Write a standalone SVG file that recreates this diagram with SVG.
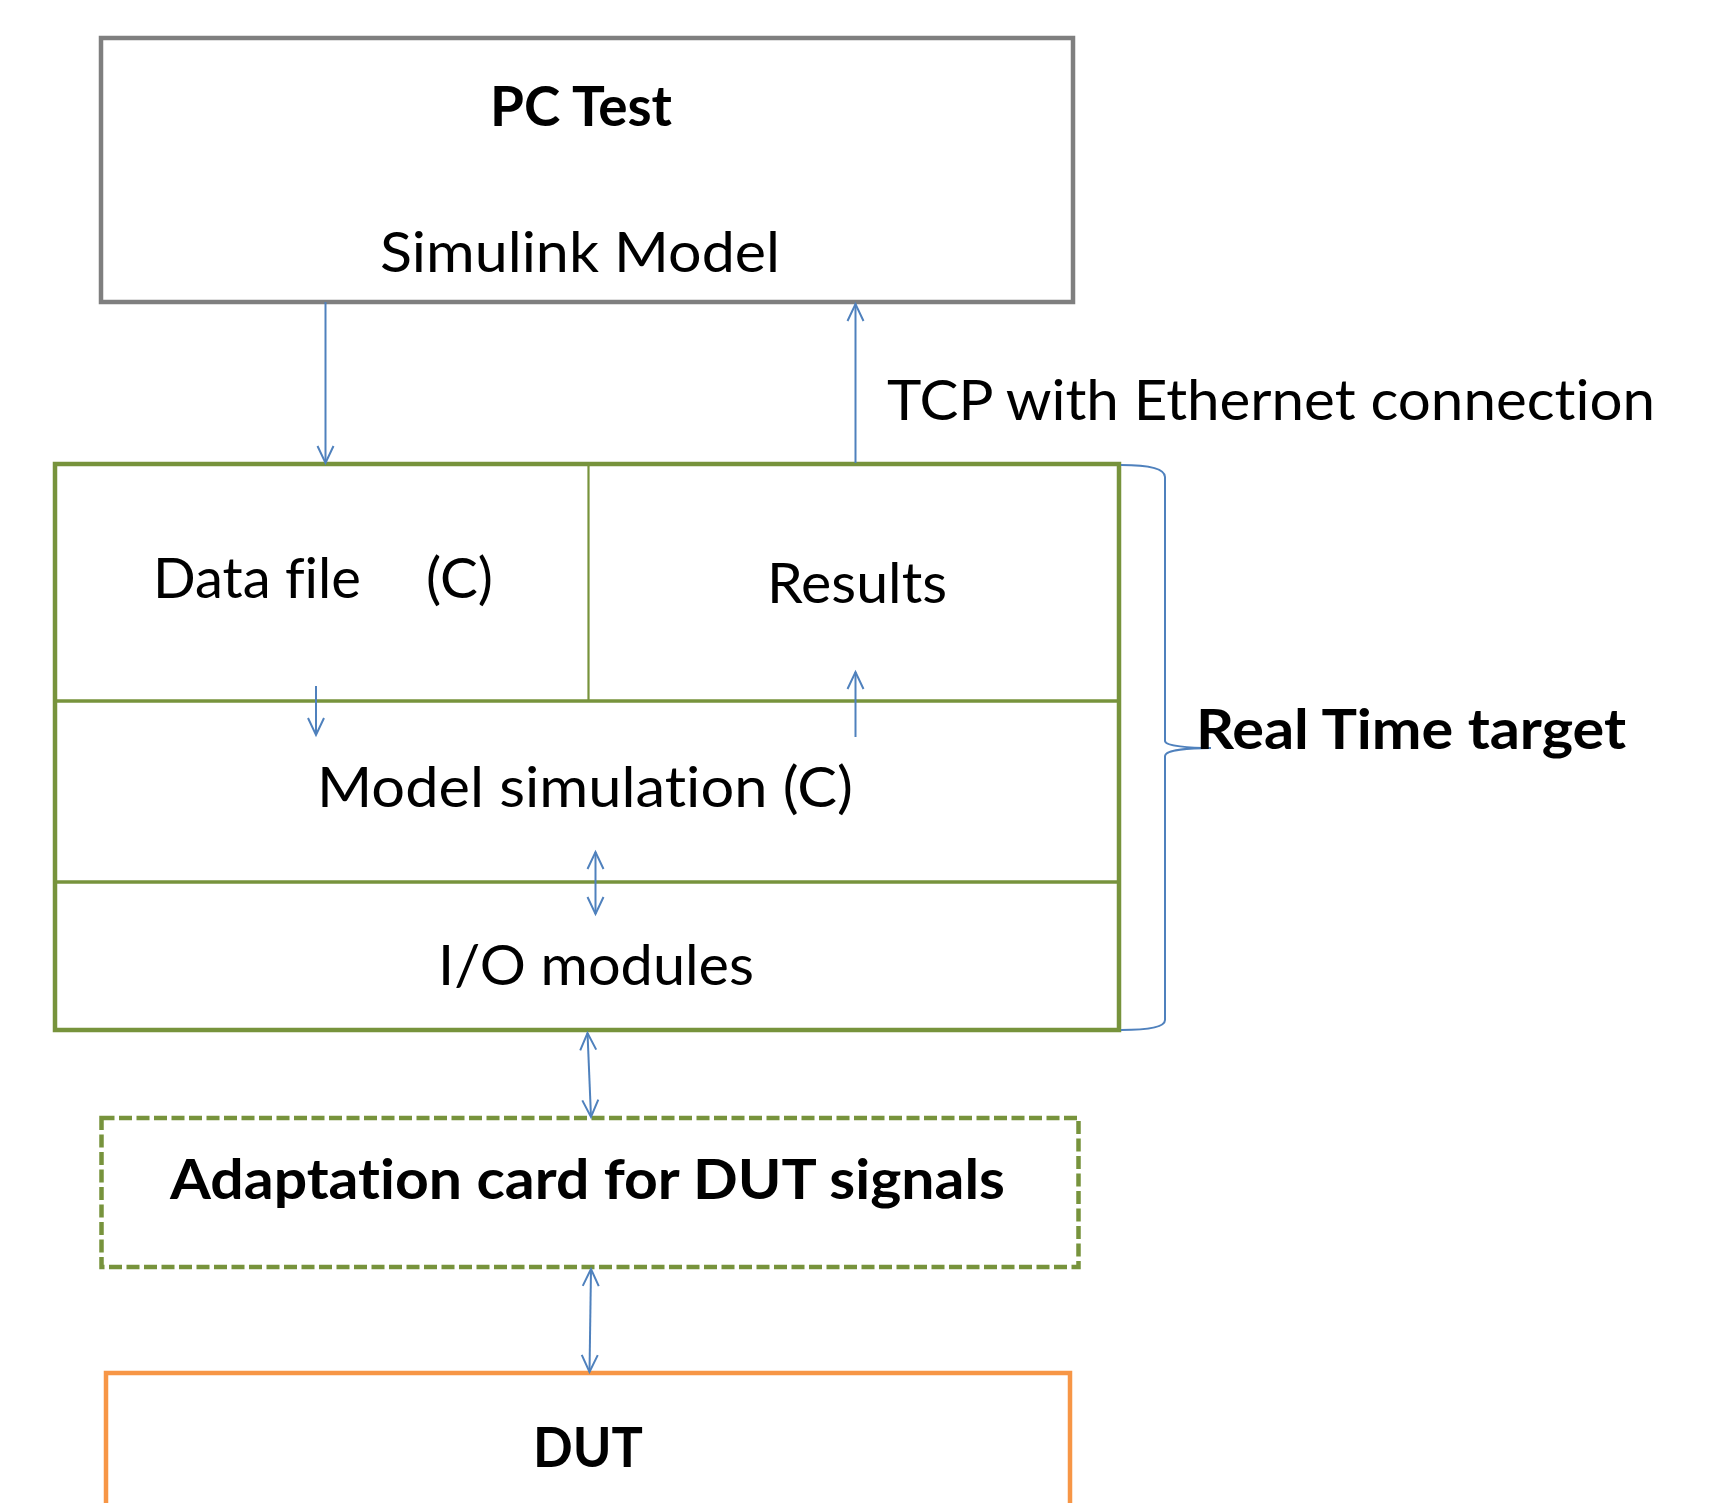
<svg xmlns="http://www.w3.org/2000/svg" width="1724" height="1503" viewBox="0 0 1724 1503">
  <style>
    .t { font-family: Lato, "Open Sans", "Liberation Sans", sans-serif; font-size: 56px; fill: #000; font-variant-ligatures: none; }
    .b { font-weight: bold; }
    .conn { stroke: #4F81BD; stroke-width: 2; fill: none; }
    .green { stroke: #77933C; fill: none; }
  </style>
  <defs>
    <marker id="arr" markerUnits="userSpaceOnUse" markerWidth="24" markerHeight="24" viewBox="-20 -12 24 24" refX="0" refY="0" orient="auto-start-reverse">
      <path d="M -17 -8 L 0 0 L -17 8" fill="none" stroke="#4F81BD" stroke-width="2"/>
    </marker>
  </defs>
  <rect width="1724" height="1503" fill="#fff"/>

  <g id="pc-test">
    <rect x="101" y="38" width="972" height="264" fill="#fff" stroke="#7F7F7F" stroke-width="4.5"/>
    <text class="t b" x="490" y="126" textLength="182" lengthAdjust="spacingAndGlyphs">PC Test</text>
    <text class="t" x="380" y="272" textLength="400" lengthAdjust="spacingAndGlyphs">Simulink Model</text>
  </g>

  <g id="tcp-label">
    <text class="t" x="887" y="420" textLength="768" lengthAdjust="spacingAndGlyphs">TCP with Ethernet connection</text>
  </g>

  <g id="real-time-target">
    <rect x="55" y="464" width="1064" height="566" fill="#fff" stroke="#77933C" stroke-width="4.5"/>
    <line class="green" x1="588.5" y1="464" x2="588.5" y2="701" stroke-width="2.2"/>
    <line class="green" x1="55" y1="701" x2="1119" y2="701" stroke-width="3.5"/>
    <line class="green" x1="55" y1="882" x2="1119" y2="882" stroke-width="3.5"/>
  </g>

  <g id="data-file">
    <text class="t" x="153" y="598" textLength="208" lengthAdjust="spacingAndGlyphs">Data file</text>
    <text class="t" x="426" y="598" textLength="67" lengthAdjust="spacingAndGlyphs">(C)</text>
  </g>

  <g id="results">
    <text class="t" x="767" y="603" textLength="180" lengthAdjust="spacingAndGlyphs">Results</text>
  </g>

  <g id="model-simulation">
    <text class="t" x="317" y="807" textLength="536" lengthAdjust="spacingAndGlyphs">Model simulation (C)</text>
  </g>

  <g id="io-modules">
    <text class="t" x="438" y="985" textLength="316" lengthAdjust="spacingAndGlyphs">I/O modules</text>
  </g>

  <g id="rt-label">
    <path class="conn" d="M 1121 465 C 1145 465, 1165 468, 1165 477 L 1165 741 C 1165 746, 1190 748, 1211 748 C 1190 748, 1165 750, 1165 756 L 1165 1020 C 1165 1028, 1145 1030, 1121 1030"/>
    <text class="t b" x="1196" y="749" textLength="430" lengthAdjust="spacingAndGlyphs">Real Time target</text>
  </g>

  <g id="adaptation-card">
    <rect x="101.5" y="1118" width="977" height="149" fill="#fff" stroke="#77933C" stroke-width="4.5" stroke-dasharray="13 4.5"/>
    <text class="t b" x="170" y="1199" textLength="835" lengthAdjust="spacingAndGlyphs">Adaptation card for DUT signals</text>
  </g>

  <g id="dut">
    <rect x="106" y="1373" width="964" height="160" fill="#fff" stroke="#F79646" stroke-width="4.5"/>
    <text class="t b" x="533" y="1467" textLength="110" lengthAdjust="spacingAndGlyphs">DUT</text>
  </g>

  <g id="connectors">
    <line class="conn" x1="325.5" y1="302" x2="325.5" y2="463" marker-end="url(#arr)"/>
    <line class="conn" x1="855.5" y1="463" x2="855.5" y2="304" marker-end="url(#arr)"/>
    <line class="conn" x1="316" y1="686" x2="316" y2="735" marker-end="url(#arr)"/>
    <line class="conn" x1="855.5" y1="737" x2="855.5" y2="672" marker-end="url(#arr)"/>
    <line class="conn" x1="595.5" y1="852" x2="595.5" y2="914" marker-start="url(#arr)" marker-end="url(#arr)"/>
    <line class="conn" x1="587.5" y1="1033" x2="591" y2="1117" marker-start="url(#arr)" marker-end="url(#arr)"/>
    <line class="conn" x1="591" y1="1269" x2="589.5" y2="1372" marker-start="url(#arr)" marker-end="url(#arr)"/>
  </g>
</svg>
